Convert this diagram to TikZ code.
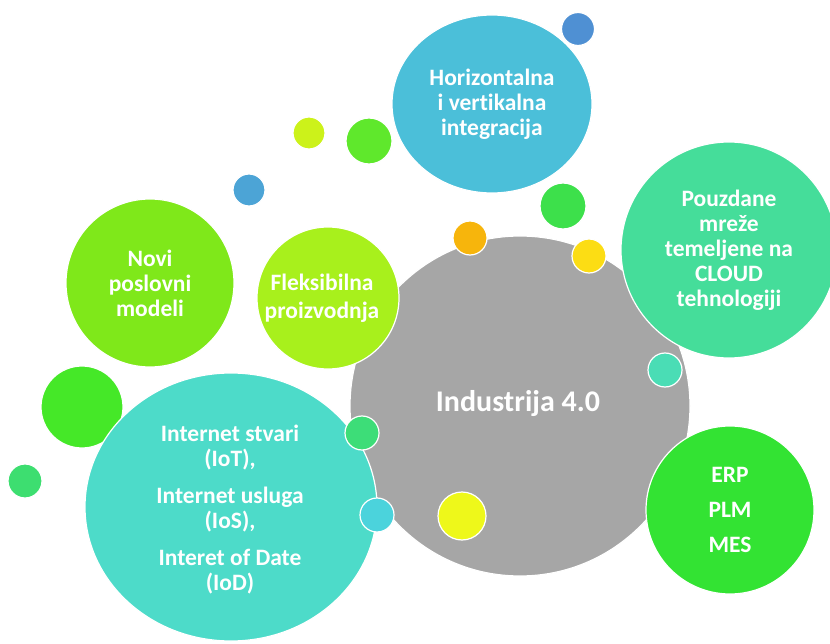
\documentclass[tikz,border=0pt]{standalone}
\usepackage{fontspec}
\setmainfont{Carlito}[Ligatures=NoCommon]
\usetikzlibrary{shapes.geometric}
\definecolor{cgray}{HTML}{A6A6A6}
\definecolor{chor}{HTML}{4BBFD9}
\definecolor{cblueA}{HTML}{4F90D3}
\definecolor{cpou}{HTML}{45DD9A}
\definecolor{cerp}{HTML}{33E333}
\definecolor{cint}{HTML}{4DDBC9}
\definecolor{cnovi}{HTML}{7FE81A}
\definecolor{cflex}{HTML}{A8F01C}
\definecolor{cyg}{HTML}{CCF21A}
\definecolor{cgrA}{HTML}{5FE82C}
\definecolor{cblueB}{HTML}{4CA4D6}
\definecolor{cgrB}{HTML}{3DE04B}
\definecolor{corange}{HTML}{F7B50C}
\definecolor{cyel}{HTML}{FCDD14}
\definecolor{cteal}{HTML}{4ADDB5}
\definecolor{cyelB}{HTML}{EEF81A}
\definecolor{cgrC}{HTML}{45E828}
\definecolor{cgrD}{HTML}{3DDE70}
\definecolor{cgrE}{HTML}{3DDD78}
\definecolor{ccyan}{HTML}{4BD3DC}
\tikzset{
  bubble/.style={circle, draw=white, line width=1.2pt, inner sep=0pt, text=white, align=center,
    font=\bfseries\fontsize{23.5}{25}\selectfont},
  dot/.style={circle, draw=white, line width=1.2pt, inner sep=0pt}
}
\begin{document}
\begin{tikzpicture}[x=1pt,y=-1pt]
\useasboundingbox (0,0) rectangle (830,644);
\fill[white] (0,0) rectangle (830,644);
\clip (0,0) rectangle (830,644);
% main circle
\node[bubble, fill=cgray, minimum size=340pt] (ind) at (520,406) {};
\node[text=white, font=\bfseries\fontsize{30}{32}\selectfont] (indt) at (518,404) {Industrija 4.0};
% big green dot behind Internet
\node[dot, fill=cgrC, minimum size=82pt] (d9) at (82,407) {};
% topic bubbles
\node[bubble, fill=cflex, minimum size=142pt] (flex) at (328,298) {};
\node[text=white, align=center, font=\bfseries\fontsize{23.5}{28}\selectfont] (flext) at (322,298) {Fleksibilna\\proizvodnja};
\node[bubble, fill=cnovi, minimum size=168pt] (novi) at (150,283) {Novi\\poslovni\\modeli};
\node[ellipse, draw=white, line width=1.2pt, inner sep=0pt, fill=cint, minimum width=292pt, minimum height=268pt] (int) at (231,507) {};
\node[text=white, align=center, font=\bfseries\fontsize{23.5}{25}\selectfont] (intt) at (230,510)
  {Internet stvari\\(IoT),\\[12pt]Internet usluga\\(IoS),\\[12pt]Interet of Date\\(IoD)};
\node[bubble, fill=cpou, minimum size=216pt] (pou) at (729,250) {Pouzdane\\mreže\\temeljene na\\CLOUD\\tehnologiji};
\node[bubble, fill=cerp, minimum size=168pt, font=\bfseries\fontsize{23.5}{35}\selectfont] (erp) at (730,510) {ERP\\PLM\\MES};
\node[ellipse, draw=white, line width=1.2pt, inner sep=0pt, fill=chor, minimum width=200pt, minimum height=178pt,
  text=white, align=center, font=\bfseries\fontsize{23.5}{25}\selectfont] (hor) at (492,104) {Horizontalna\\i vertikalna\\integracija};
% small dots
\node[dot, fill=cblueA, minimum size=33pt] (d1) at (578,29) {};
\node[dot, fill=cyg, minimum size=32pt] (d2) at (309,133) {};
\node[dot, fill=cgrA, minimum size=46pt] (d3) at (369,141) {};
\node[dot, fill=cblueB, minimum size=32pt] (d4) at (249,190) {};
\node[dot, fill=cgrB, minimum size=46pt] (d5) at (563,206) {};
\node[dot, fill=corange, minimum size=34pt] (d6) at (470,238) {};
\node[dot, fill=cyel, minimum size=34pt] (d7) at (589,256) {};
\node[dot, fill=cteal, minimum size=34pt] (d8) at (665,370) {};
\node[dot, fill=cgrD, minimum size=34pt] (d10) at (25,481) {};
\node[dot, fill=cgrE, minimum size=34pt] (d11) at (362,433) {};
\node[dot, fill=ccyan, minimum size=34pt] (d12) at (377,515) {};
\node[dot, fill=cyelB, minimum size=48pt] (d13) at (462,516) {};
\end{tikzpicture}
\end{document}
